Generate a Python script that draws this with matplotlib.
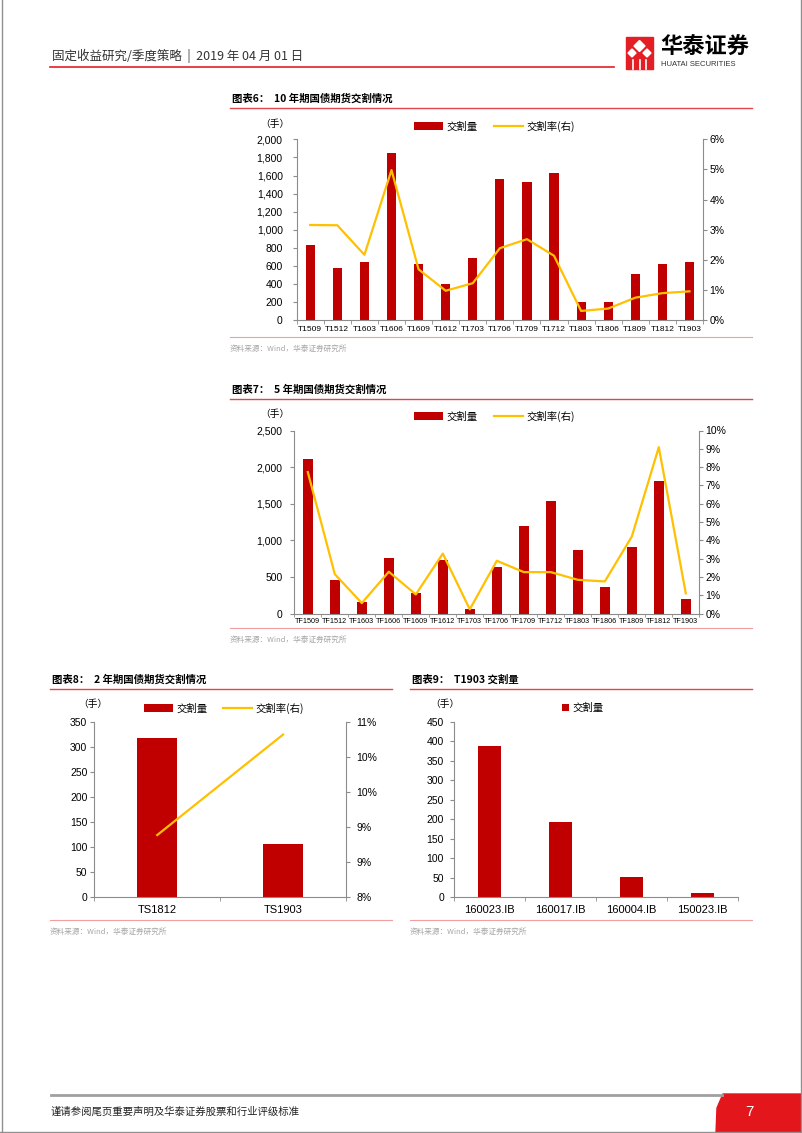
import numpy as np
import matplotlib
matplotlib.use("Agg")
import matplotlib.pyplot as plt
from matplotlib.patches import Rectangle, Polygon
from matplotlib.lines import Line2D
from matplotlib.ticker import FuncFormatter, FixedLocator, MultipleLocator

plt.rcParams["font.family"] = ["Liberation Sans", "Noto Sans CJK SC", "DejaVu Sans"]
CJK = ["Noto Sans CJK SC", "DejaVu Sans"]

RED = "#C00000"
GOLD = "#FFC000"
AXC = "#8C8C8C"
RULE = "#E0474C"
SRC = "#A6A6A6"

# ---- data ----
t10_codes = ["T1509", "T1512", "T1603", "T1606", "T1609", "T1612", "T1703", "T1706",
             "T1709", "T1712", "T1803", "T1806", "T1809", "T1812", "T1903"]
t10_volume = [832, 578, 648, 1853, 619, 405, 685, 1562, 1525, 1632, 203, 203, 512, 626, 641]
t10_rate = [3.16, 3.15, 2.17, 4.98, 1.69, 0.98, 1.23, 2.39, 2.69, 2.14, 0.31, 0.39, 0.75, 0.90, 0.96]

tf5_codes = ["TF1509", "TF1512", "TF1603", "TF1606", "TF1609", "TF1612", "TF1703", "TF1706",
             "TF1709", "TF1712", "TF1803", "TF1806", "TF1809", "TF1812", "TF1903"]
tf5_volume = [2114, 454, 154, 762, 286, 726, 64, 631, 1202, 1543, 871, 370, 910, 1810, 202]
tf5_rate = [7.73, 2.16, 0.58, 2.29, 1.05, 3.28, 0.24, 2.89, 2.27, 2.27, 1.85, 1.76, 4.21, 9.09, 1.11]

ts2_codes = ["TS1812", "TS1903"]
ts2_volume = [317, 106]
ts2_rate = [9.06, 10.78]

bond_codes = ["160023.IB", "160017.IB", "160004.IB", "150023.IB"]
bond_volume = [388, 193, 51, 9]

W, H = 802, 1133
fig = plt.figure(figsize=(W / 100, H / 100), dpi=100)


def box(l, t, r, b):
    return fig.add_axes([l / W, 1 - b / H, (r - l) / W, (b - t) / H])


def ftext(x, y, s, **kw):
    kw.setdefault("va", "center")
    fig.text(x / W, 1 - y / H, s, **kw)


def hline(x0, x1, y, color, lw):
    fig.add_artist(Line2D([x0 / W, x1 / W], [1 - y / H] * 2, color=color, lw=lw))


def style(ax, n, cat_size, ypad, xpad, mlen=3):
    ax.set_xlim(-0.5, n - 0.5)
    for s in ("top", "right"):
        ax.spines[s].set_visible(False)
    for s in ("left", "bottom"):
        ax.spines[s].set_color(AXC)
        ax.spines[s].set_linewidth(0.8)
    ax.xaxis.set_minor_locator(FixedLocator(np.arange(n + 1) - 0.5))
    ax.tick_params(axis="x", which="major", length=0, labelsize=cat_size, pad=xpad)
    ax.tick_params(axis="x", which="minor", length=mlen, color=AXC)
    ax.tick_params(axis="y", length=3, color=AXC, labelsize=7.5, pad=ypad)
    ax.yaxis.set_major_formatter(FuncFormatter(lambda v, p: f"{v:,.0f}"))


def twin(ax, lo, hi, ticks, pad):
    ax2 = ax.twinx()
    for s in ("top", "left", "bottom"):
        ax2.spines[s].set_visible(False)
    ax2.spines["right"].set_color(AXC)
    ax2.spines["right"].set_linewidth(0.8)
    ax2.set_ylim(lo, hi)
    ax2.set_yticks(ticks)
    ax2.yaxis.set_major_formatter(FuncFormatter(lambda v, p: f"{v:.0f}%"))
    ax2.tick_params(axis="y", length=3, color=AXC, labelsize=7.5, pad=pad)
    return ax2


def legend(x, y, handles, labels, hl=2.8, hh=0.85, cs=1.6):
    fig.legend(handles, labels, loc="center left", bbox_to_anchor=(x / W, 1 - y / H),
               ncol=len(handles), frameon=False, prop={"family": CJK, "size": 7.5},
               handlelength=hl, handleheight=hh, handletextpad=0.3,
               columnspacing=cs, borderpad=0, borderaxespad=0)


def header(x0, x1, y, title, ysrc, yrule):
    ftext(x0 + 2, y, title, family=CJK, fontsize=7.5, fontweight="bold")
    hline(x0, x1, y + 9, RULE, 1.0)
    hline(x0, x1, yrule, "#F0A0A0", 0.8)
    ftext(x0 if x0 < 200 else x0, ysrc, "资料来源：Wind，华泰证券研究所",
          family=CJK, fontsize=5.5, color=SRC)


# ---- page furniture ----
ftext(52, 56, "固定收益研究/季度策略  |  2019 年 04 月 01 日", family=CJK, fontsize=9,
      color="#333333")
hline(50, 614, 67, "#E31E24", 1.2)
fig.add_artist(Rectangle((626 / W, 1 - 69 / H), 27 / W, 32 / H, color="#E31E24",
                         transform=fig.transFigure))
for cx, cy, r in [(639.5, 46, 5.5), (632, 53, 4), (647, 53, 4)]:
    fig.add_artist(Polygon([((cx - r) / W, 1 - cy / H), (cx / W, 1 - (cy - r) / H),
                            ((cx + r) / W, 1 - cy / H), (cx / W, 1 - (cy + r) / H)],
                           color="white", transform=fig.transFigure))
for vx in (633, 639.5, 646):
    fig.add_artist(Line2D([vx / W] * 2, [1 - 69 / H, 1 - 60 / H], color="white", lw=1.2))
ftext(660, 47, "华泰证券", family=CJK, fontsize=16, fontweight="bold")
ftext(661, 65, "HUATAI SECURITIES", fontsize=5.5, color="#333333")

hline(51, 722, 1095, "#A0A0A0", 2.0)
ftext(51, 1112, "谨请参阅尾页重要声明及华泰证券股票和行业评级标准", family=CJK,
      fontsize=7.5, color="#222222")
fig.add_artist(Polygon([(723 / W, 1 - 1094 / H), (802 / W, 1 - 1094 / H), (802 / W, 0),
                        (716 / W, 0), (717 / W, 1 - 1108 / H)],
                       color="#E3161C", transform=fig.transFigure))
ftext(749, 1112, "7", fontsize=11, color="white", ha="center")
for xb in (1.5, 800.5):
    fig.add_artist(Line2D([xb / W] * 2, [0, 1], color="#909090", lw=1))
hline(0, 802, 1131.5, "#909090", 1)

# ---- chart 6: 10-year ----
header(230, 752, 99, "图表6：  10 年期国债期货交割情况", 349, 337)
ax = box(296.7, 139.3, 703, 320.3)
x = np.arange(len(t10_codes))
b = ax.bar(x, t10_volume, width=0.34, color=RED)
ax.set_ylim(0, 2000)
ax.yaxis.set_major_locator(MultipleLocator(200))
ax.set_xticks(x, t10_codes)
style(ax, len(x), 6, 7, 4)
ax2 = twin(ax, 0, 6, np.arange(0, 7), 1.5)
ln, = ax2.plot(x, t10_rate, color=GOLD, lw=1.6)
legend(414, 126, [b, ln], ["交割量", "交割率(右)"])
ftext(275, 124, "（手）", family=CJK, fontsize=7, ha="center")

# ---- chart 7: 5-year ----
header(230, 752, 390, "图表7：  5 年期国债期货交割情况", 640, 628)
ax = box(294.3, 430.5, 699.3, 613.7)
x = np.arange(len(tf5_codes))
b = ax.bar(x, tf5_volume, width=0.35, color=RED)
ax.set_ylim(0, 2500)
ax.yaxis.set_major_locator(MultipleLocator(500))
ax.set_xticks(x, tf5_codes)
style(ax, len(x), 5.2, 5.5, 3, mlen=2)
ax2 = twin(ax, 0, 10, np.arange(0, 11), 1.5)
ln, = ax2.plot(x, tf5_rate, color=GOLD, lw=1.6)
legend(414, 416, [b, ln], ["交割量", "交割率(右)"])
ftext(275, 414, "（手）", family=CJK, fontsize=7, ha="center")

# ---- chart 8: 2-year ----
header(50, 392, 680, "图表8：  2 年期国债期货交割情况", 932, 920)
ax = box(94.3, 721.7, 346, 897)
x = np.arange(len(ts2_codes))
b = ax.bar(x, ts2_volume, width=0.32, color=RED)
ax.set_ylim(0, 350)
ax.yaxis.set_major_locator(MultipleLocator(50))
ax.set_xticks(x, ts2_codes)
style(ax, len(x), 8, 2, 6)
ax2 = twin(ax, 8, 11, np.linspace(8, 11, 6), 4.5)
ln, = ax2.plot(x, ts2_rate, color=GOLD, lw=1.6)
legend(144, 708, [b, ln], ["交割量", "交割率(右)"], cs=1.5)
ftext(93, 704, "（手）", family=CJK, fontsize=7, ha="center")

# ---- chart 9: T1903 deliverable bonds ----
header(410, 752, 680, "图表9：  T1903 交割量", 932, 920)
ax = box(454.3, 721.7, 738, 897)
x = np.arange(len(bond_codes))
b = ax.bar(x, bond_volume, width=0.32, color=RED)
ax.set_ylim(0, 450)
ax.yaxis.set_major_locator(MultipleLocator(50))
ax.set_xticks(x, bond_codes)
style(ax, len(x), 8, 4.5, 6)
legend(562, 708, [b], ["交割量"], hl=0.7, hh=0.7)
ftext(445, 704, "（手）", family=CJK, fontsize=7, ha="center")

fig.savefig("out.png", dpi=100)
